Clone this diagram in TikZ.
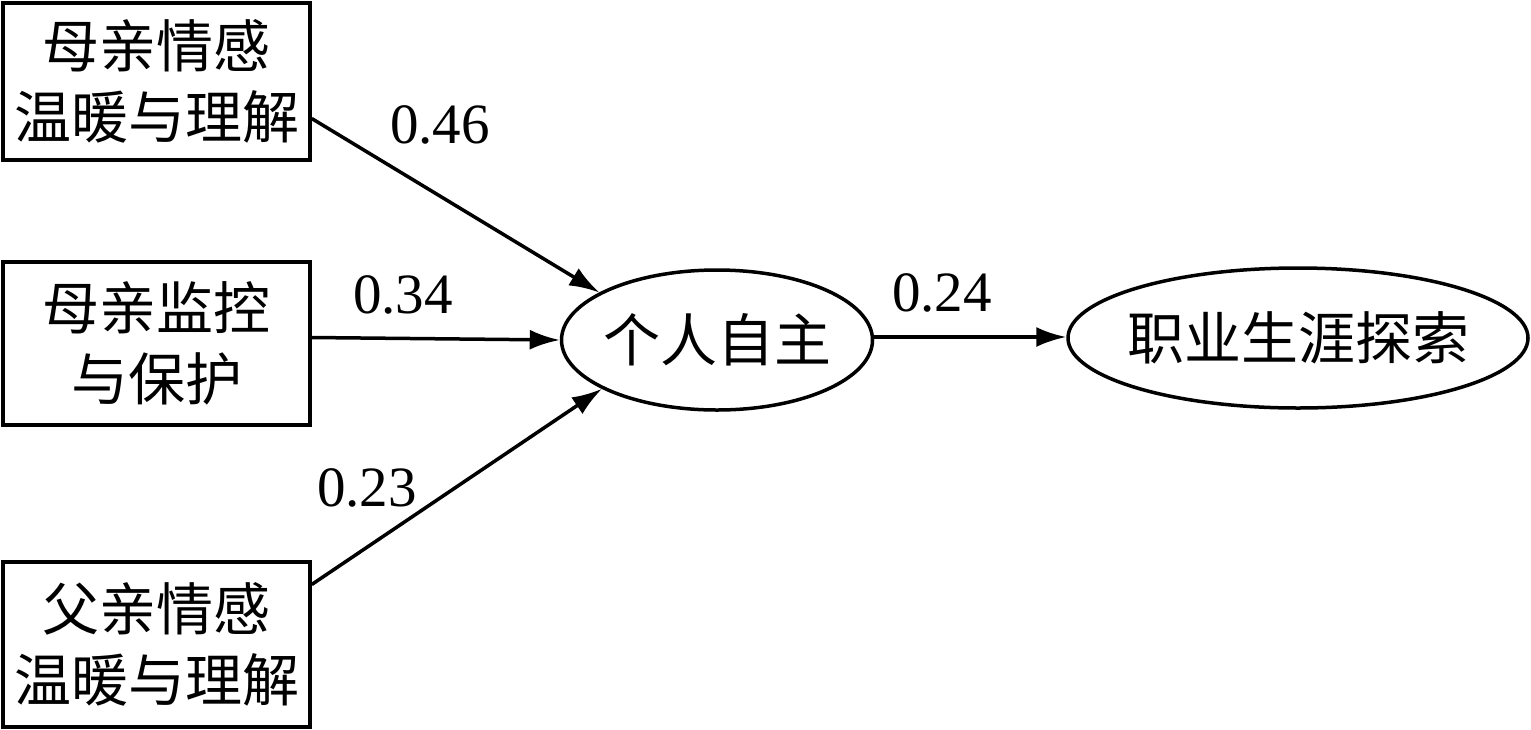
\documentclass[tikz,border=0pt]{standalone}
\usepackage{fontspec}
\setmainfont{Liberation Serif}
\newfontfamily\cjk{Noto Sans CJK SC}
\usetikzlibrary{arrows.meta,shapes.geometric}
\begin{document}
\begin{tikzpicture}[x=1pt,y=-1pt,
  box/.style={draw,line width=3.5pt,minimum width=307pt,inner sep=0pt,align=center,
    font=\cjk\fontsize{57}{71}\selectfont},
  ell/.style={draw,ellipse,line width=3.5pt,inner xsep=-20pt,inner ysep=0pt,minimum height=140pt,
    font=\cjk\fontsize{57}{66}\selectfont},
  arr/.style={line width=3.5pt,-{Latex[length=30pt,width=20pt]}},
  lab/.style={inner sep=0pt,font=\fontsize{57}{64}\selectfont}]
\useasboundingbox (0,0) rectangle (1531,729);
\node[box,minimum height=157pt] (b1) at (156.5,81.5) {母亲情感\\温暖与理解};
\node[box,minimum height=163pt] (b2) at (156.5,343.5) {母亲监控\\与保护};
\node[box,minimum height=165pt] (b3) at (156.5,644.5) {父亲情感\\温暖与理解};
\node[ell,minimum width=311pt] (e1) at (717,340) {个人自主};
\node[ell,minimum width=460pt] (e2) at (1298,338) {职业生涯探索};
\draw[arr] ([yshift=-37pt]b1.east) -- (e1.158);
\draw[arr] ([yshift=6pt]b2.east) -- (e1.west);
\draw[arr] ([yshift=60pt]b3.east) -- (e1.203);
\draw[arr] ([yshift=3pt]e1.east) -- ([yshift=1pt]e2.west);
\node[lab] (l1) at (440,125) {0.46};
\node[lab] (l2) at (403,295) {0.34};
\node[lab] (l3) at (367,488) {0.23};
\node[lab] (l4) at (942,293) {0.24};
\end{tikzpicture}
\end{document}
